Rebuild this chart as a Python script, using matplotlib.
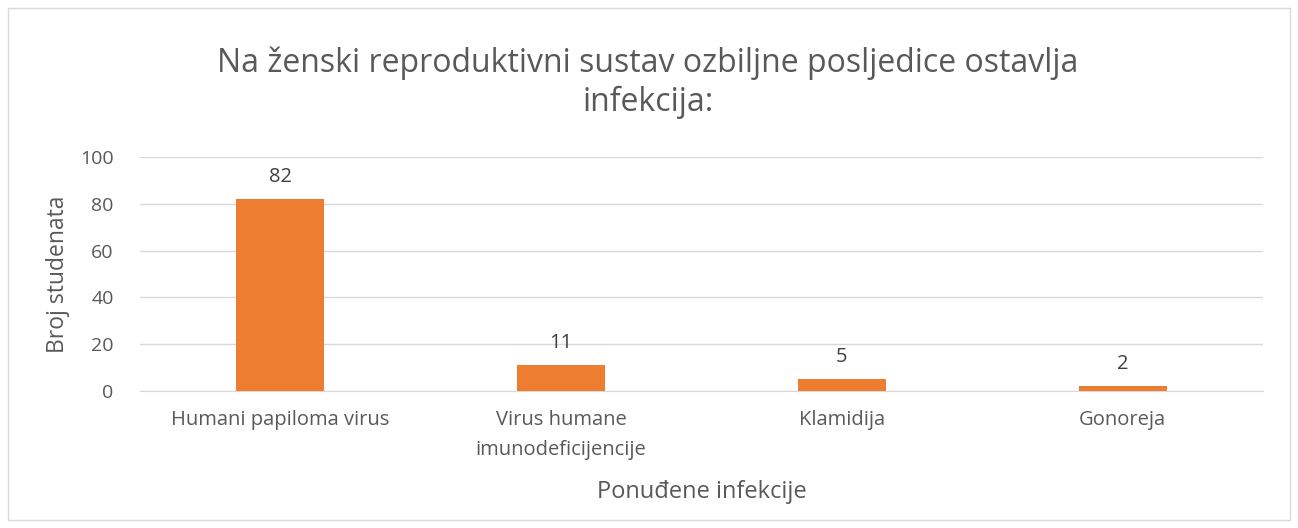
import matplotlib
matplotlib.use("Agg")
import matplotlib.pyplot as plt
from matplotlib.patches import Rectangle

categories = ["Humani papiloma virus", "Virus humane\nimunodeficijencije", "Klamidija", "Gonoreja"]
values = [82, 11, 5, 2]
yticks = [0, 20, 40, 60, 80, 100]

W, H = 1298, 528
fig = plt.figure(figsize=(W/100, H/100), dpi=100)
plt.rcParams['font.family'] = ['Open Sans', 'DejaVu Sans']
ax = fig.add_axes([140/W, 1-391/H, (1263-140)/W, (391-157)/H])

txt = '#595959'
x = list(range(len(categories)))
bars = ax.bar(x, values, width=0.314, color='#ED7D31', zorder=3)
for xi, v in zip(x, values):
    ax.annotate(str(v), (xi, v), xytext=(0, 9), textcoords='offset points',
                ha='center', va='bottom', fontsize=14.5, color='#404040')

ax.set_xlim(-0.5, len(categories)-0.5)
ax.set_ylim(0, 100)
ax.set_yticks(yticks)
ax.set_yticklabels([str(t) for t in yticks], fontsize=14, color=txt)
ax.set_xticks(x)
ax.set_xticklabels(categories, fontsize=14.5, color=txt, va='top', linespacing=1.65)
ax.tick_params(axis='x', length=0, pad=14)
ax.tick_params(axis='y', length=0, pad=19)
ax.grid(axis='y', color='#D9D9D9', linewidth=1, zorder=0)
for s in ['top', 'right', 'left']:
    ax.spines[s].set_visible(False)
ax.spines['bottom'].set_color('#D9D9D9')

ax.set_ylabel('Broj studenata', fontsize=16.5, color=txt, va='center', ha='center')
ax.yaxis.set_label_coords((58-140)/1123, 0.5)
ax.set_xlabel('Ponuđene infekcije', fontsize=17, color=txt, va='center', ha='center')
ax.xaxis.set_label_coords(0.5, -(492-391)/234)

fig.text(648/W, 1-63/H, 'Na ženski reproduktivni sustav ozbiljne posljedice ostavlja',
         ha='center', va='center', fontsize=23, color=txt)
fig.text(648/W, 1-102/H, 'infekcija:', ha='center', va='center', fontsize=23, color=txt)

fig.patches.append(Rectangle((8/W, 8/H), (W-16)/W, (H-16)/H, transform=fig.transFigure,
                             fill=False, edgecolor='#D9D9D9', linewidth=1))

fig.savefig('out.png', dpi=100)
